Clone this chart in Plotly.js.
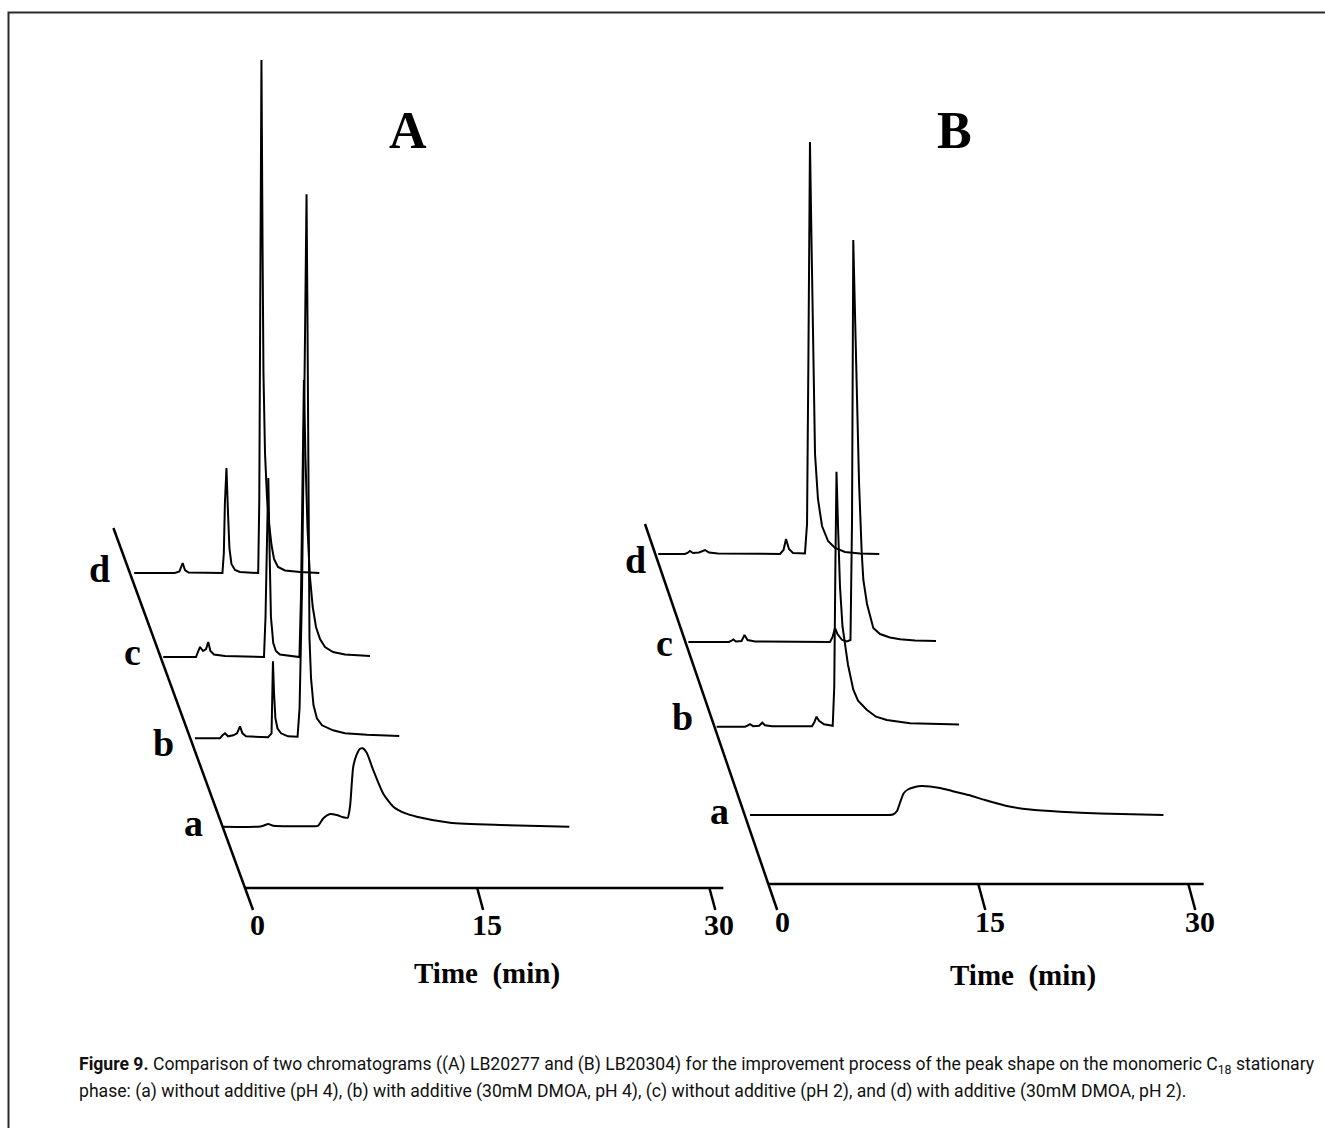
<!DOCTYPE html>
<html><head><meta charset="utf-8">
<script src="https://cdn.plot.ly/plotly-3.0.1.min.js"></script>
<style>html,body{margin:0;padding:0;background:#fff;} #chart{width:1325px;height:1128px;}</style>
</head><body><div id="chart"></div>
<script>
// ---------------- DATA (time in min, detector signal in arbitrary units) ----------------
const timeTicks = [0, 15, 30];
const tickLabels = ['0', '15', '30'];
const traceNames = ['a', 'b', 'c', 'd'];
const panelNames = ['A', 'B'];
const axisTitle = 'Time\u00a0\u00a0(min)';

// Panel A (LB20277)
const A_a_time   = [0.05,2.29,2.63,2.95,3.28,5.0,6.03,6.18,6.51,6.94,7.37,7.78,8.08,8.23,8.44,8.66,8.88,9.05,9.31,9.73,10.38,11.03,11.78,12.54,14.69,17.92,22.40];
const A_a_signal = [0,0,1,2.7,1,0.5,0.5,1,8.4,12.7,11.7,9.5,9,20,60,72,78,78.4,74,56.7,33,20,13.5,10,4,1.7,0];
const A_b_time   = [0.30,1.92,2.08,2.24,2.44,2.78,3.02,3.21,3.37,3.60,5.02,5.25,5.30,5.34,5.41,5.50,5.63,5.86,6.31,6.93,7.06,7.22,7.41,7.51,7.57,7.64,7.70,7.80,7.96,8.18,8.51,9.22,9.99,11.41,13.50];
const A_b_signal = [0,0,3,5,2,3,5,12,5,2,1,5,45,77,45,20,10,5,2,1.5,30,150,400,544,420,200,100,60,33,20,13,8,5,3.5,2.3];
const A_c_time   = [0.17,2.29,2.41,2.55,2.74,2.94,3.08,3.22,3.45,4.16,6.68,6.78,6.88,6.96,7.05,7.13,7.28,7.45,7.71,8.35,8.97,9.07,9.20,9.26,9.36,9.49,9.65,9.83,10.04,10.30,10.62,11.14,11.91,13.53];
const A_c_signal = [0,0,5,10,6,8,15,6,2.5,1,0,40,120,179,100,40,14,6,2.5,1,0,60,200,277,200,130,80,50,30,18,10,5,2.5,1];
const A_d_time   = [0.28,2.91,3.20,3.41,3.56,3.79,5.98,6.07,6.14,6.24,6.34,6.43,6.56,6.79,7.11,8.08,8.29,8.36,8.50,8.57,8.63,8.73,8.86,8.99,9.15,9.31,9.57,10.02,11.0,12.24];
const A_d_signal = [0,0,1.5,10,3,0.5,0,20,70,105,60,25,9,3,1,0.5,0,73,513,330,200,120,75,50,28,14,6,2.5,1,0];

// Panel B (LB20304)
const B_a_time   = [0.38,9.66,10.59,10.88,11.09,11.36,11.66,12.16,12.66,13.24,13.95,14.81,15.99,17.16,18.72,20.38,22.54,25.38,29.91];
const B_a_signal = [0,0,0.5,4,12,21.7,25.5,28,29,28.5,27,24,20,15,9,5.5,3.3,1.5,0];
const B_b_time   = [0.16,2.19,2.36,2.54,2.76,3.19,3.42,3.61,4.11,6.97,7.15,7.29,7.47,7.83,8.45,8.56,8.64,8.72,8.83,8.97,9.15,9.33,9.54,9.92,10.26,10.88,11.54,12.31,13.97,16.83,17.47];
const B_b_signal = [0,0,1,2.5,0.5,1,4,1.5,0.5,0.5,5,10,6,2.5,1,40,160,255,200,140,100,80,62,37,26,17,10,6.7,3.5,2.4,2.3];
const B_c_time   = [0.21,3.11,3.26,3.42,3.61,4.01,4.22,4.44,4.97,10.33,10.51,10.69,10.86,11.19,11.54,11.79,11.90,11.99,12.11,12.24,12.40,12.59,12.71,12.97,13.42,13.90,14.61,15.33,16.40,17.90];
const B_c_signal = [0,0,1,2.5,0.5,1,7,2,0.5,0,5,14,8,2,0.5,2,120,402,330,255,160,90,62,38,14,8,4.5,2.7,1.5,1];
const B_d_time   = [0.21,2.12,2.30,2.48,2.69,3.12,3.55,3.84,4.48,8.91,9.16,9.34,9.55,9.84,10.69,10.84,10.94,11.05,11.14,11.24,11.41,11.62,11.91,12.34,12.84,13.55,14.62,16.0];
const B_d_signal = [0,0,1,3,1,1.5,4,1.5,0.5,0,4,15,5,1,0.5,30,200,412,330,234,100,55,28,13,6,2,0.5,0];

const captionLine1 = '<b>Figure 9.</b> Comparison of two chromatograms ((A) LB20277 and (B) LB20304) for the improvement process of the peak shape on the monomeric C<sub>18</sub> stationary';
const captionLine2 = 'phase: (a) without additive (pH 4), (b) with additive (30mM DMOA, pH 4), (c) without additive (pH 2), and (d) with additive (30mM DMOA, pH 2).';

const series = {
  A: {a:[A_a_time,A_a_signal], b:[A_b_time,A_b_signal], c:[A_c_time,A_c_signal], d:[A_d_time,A_d_signal]},
  B: {a:[B_a_time,B_a_signal], b:[B_b_time,B_b_signal], c:[B_c_time,B_c_signal], d:[B_d_time,B_d_signal]}
};

// ---------------- LAYOUT GEOMETRY (positions / styles) ----------------
const W = 1325, H = 1128;
const geom = {
  A: {xa:'x', ya:'y', originPx:245, axisPx:888, ppm:15.48, slant:0.3655, depthTop:360, axisEnd:30.9,
      tickLen:22, tickSlope:0.27, tickLabelDx:4, tickLabelDy:14,
      depth:{a:61.3, b:149.7, c:231, d:315},
      labelShift:{a:[-28.6,3.7], b:[-26.3,-4.2], c:[-28.1,5], d:[-29.9,4]},
      letterPx:[408,130], titlePx:[487,973]},
  B: {xa:'x2', ya:'y2', originPx:768.3, axisPx:884, ppm:14.0, slant:0.3425, depthTop:360, axisEnd:31.1,
      tickLen:26, tickSlope:0.27, tickLabelDx:5, tickLabelDy:11,
      depth:{a:69, b:157.3, c:242, d:330},
      labelShift:{a:[-25,4], b:[-32.4,9.7], c:[-20.9,-1], d:[-19.3,-6]},
      letterPx:[955,130], titlePx:[1023,975]}
};
const serif = '"Liberation Serif", "Times New Roman", serif';
const ink = '#000';

const traces = [];
const annotations = [];

panelNames.forEach(p => {
  const g = geom[p];
  const shiftPerUnit = g.slant / g.ppm; // minutes of horizontal shift per unit of depth
  traceNames.forEach(n => {
    const [t, s] = series[p][n];
    const dep = g.depth[n];
    const broad = (n === 'a');
    traces.push({
      type:'scatter', mode:'lines', xaxis:g.xa, yaxis:g.ya,
      x: t.map(v => v - dep*shiftPerUnit),
      y: s.map(v => v + dep),
      line: broad ? {color:ink, width:2, shape:'spline', smoothing:0.6} : {color:ink, width:2},
      hoverinfo:'skip'
    });
    annotations.push({
      xref:g.xa, yref:g.ya, x:-dep*shiftPerUnit, y:dep,
      text:'<b>'+n+'</b>', showarrow:false, xanchor:'center', yanchor:'middle',
      xshift:g.labelShift[n][0], yshift:g.labelShift[n][1],
      font:{family:serif, size:38, color:ink}
    });
  });
  // time axis
  traces.push({type:'scatter', mode:'lines', xaxis:g.xa, yaxis:g.ya,
    x:[timeTicks[0], g.axisEnd], y:[0,0], line:{color:ink, width:2.5}, hoverinfo:'skip'});
  // slanted depth axis (continues below as the 0 tick)
  traces.push({type:'scatter', mode:'lines', xaxis:g.xa, yaxis:g.ya,
    x:[-g.depthTop*shiftPerUnit, g.tickLen*shiftPerUnit], y:[g.depthTop, -g.tickLen],
    line:{color:ink, width:2.5}, hoverinfo:'skip'});
  // slanted ticks + labels
  timeTicks.forEach((tv, i) => {
    const endX = (i === 0) ? tv + g.tickLen*shiftPerUnit : tv + g.tickLen*g.tickSlope/g.ppm;
    if (i > 0) {
      traces.push({type:'scatter', mode:'lines', xaxis:g.xa, yaxis:g.ya,
        x:[tv, endX], y:[0, -g.tickLen], line:{color:ink, width:2.5}, hoverinfo:'skip'});
    }
    annotations.push({xref:g.xa, yref:g.ya, x:endX, y:-g.tickLen, text:'<b>'+tickLabels[i]+'</b>',
      showarrow:false, xanchor:'center', yanchor:'middle', xshift:g.tickLabelDx, yshift:-g.tickLabelDy,
      font:{family:serif, size:30, color:ink}});
  });
  annotations.push({xref:'paper', yref:'paper', x:g.letterPx[0]/W, y:1-g.letterPx[1]/H, text:'<b>'+p+'</b>',
    showarrow:false, xanchor:'center', yanchor:'middle', font:{family:serif, size:52, color:ink}});
  annotations.push({xref:'paper', yref:'paper', x:g.titlePx[0]/W, y:1-g.titlePx[1]/H, text:'<b>'+axisTitle+'</b>',
    showarrow:false, xanchor:'center', yanchor:'middle', font:{family:serif, size:29, color:ink}});
});

// caption font size fitted to the reference line width
const capFamily = '"Liberation Sans Narrow", Roboto, "Liberation Sans", sans-serif';
function fitCaption(targetW) {
  const ctx = document.createElement('canvas').getContext('2d');
  const parts = [['Figure 9.', true, 1],
    [' Comparison of two chromatograms ((A) LB20277 and (B) LB20304) for the improvement process of the peak shape on the monomeric C', false, 1],
    ['18', false, 0.7], [' stationary', false, 1]];
  let w = 0;
  parts.forEach(([txt, bold, sc]) => { ctx.font = (bold ? 'bold ' : '') + (100*sc) + 'px ' + capFamily; w += ctx.measureText(txt).width; });
  return Math.min(21, 100*targetW/w);
}
const capSize = fitCaption(1236);
[[captionLine1, 1065], [captionLine2, 1091]].forEach(([txt, py]) => {
  annotations.push({xref:'paper', yref:'paper', x:77/W, y:1-py/H, text:txt, showarrow:false,
    xanchor:'left', yanchor:'middle', align:'left', font:{family:capFamily, size:capSize, color:'#111'}});
});

const layout = {
  width:W, height:H, margin:{l:0, r:0, t:0, b:0}, showlegend:false,
  paper_bgcolor:'#fff', plot_bgcolor:'#fff',
  xaxis:{domain:[0,1], range:[-geom.A.originPx/geom.A.ppm, (W-geom.A.originPx)/geom.A.ppm], visible:false, anchor:'y'},
  yaxis:{domain:[0,1], range:[-(H-geom.A.axisPx), geom.A.axisPx], visible:false, anchor:'x'},
  xaxis2:{domain:[0,1], overlaying:'x', range:[-geom.B.originPx/geom.B.ppm, (W-geom.B.originPx)/geom.B.ppm], visible:false, anchor:'y2'},
  yaxis2:{domain:[0,1], overlaying:'y', range:[-(H-geom.B.axisPx), geom.B.axisPx], visible:false, anchor:'x2'},
  annotations:annotations,
  shapes:[{type:'rect', xref:'paper', yref:'paper', x0:8.5/W, x1:1.05, y0:-0.05, y1:1-12.5/H,
    line:{color:'#2a2a2a', width:2}, fillcolor:'rgba(0,0,0,0)'}]
};

Plotly.newPlot('chart', traces, layout, {staticPlot:true, displayModeBar:false});
</script>
</body></html>
